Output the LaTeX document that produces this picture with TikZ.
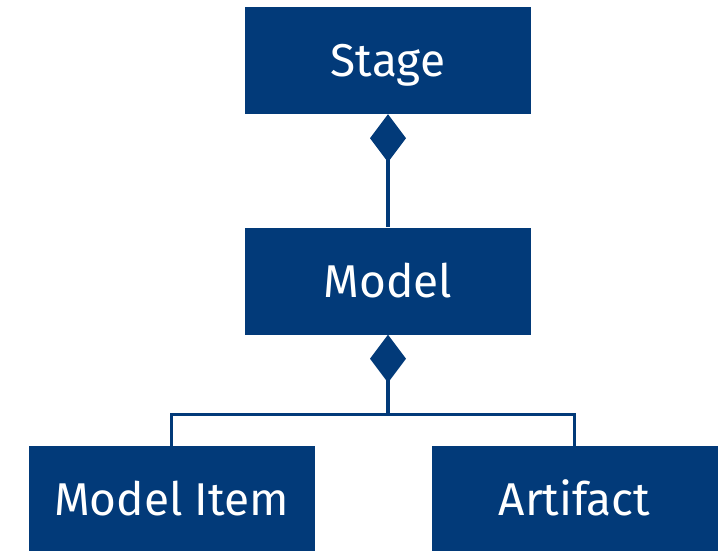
\documentclass[tikz,border=0pt]{standalone}
\usepackage{fontspec}
\setsansfont{Fira Sans}
\usetikzlibrary{arrows.meta}
\definecolor{navy}{RGB}{2,58,121}
\begin{document}
\begin{tikzpicture}[x=1pt,y=-1pt,
  block/.style={fill=navy, text=white, minimum width=286pt, minimum height=107pt,
    inner sep=0pt, text height=32pt, text depth=0pt,
    font=\sffamily\fontsize{46}{46}\selectfont},
  stem/.style={draw=navy, line width=4pt},
  branch/.style={draw=navy, line width=3pt},
  comp/.style={{Diamond[length=48pt,width=36pt,line width=0pt]}-}]
\useasboundingbox (0,0) rectangle (725,550);
% class boxes
\node[block] (stage) at (388,60.5) {Stage};
\node[block] (model) at (388,281) {Model};
\node[block] (item) at (171.5,499.5) {Model Item};
\node[block] (artifact) at (574.5,499.5) {Artifact};
% composition: Stage owns Model
\draw[stem, comp] (stage.south) -- (model.north);
% composition: Model owns Model Item and Artifact
\draw[stem, comp] (model.south) -- ++(0,80) coordinate (fork);
\draw[branch] (fork) -| (item.north);
\draw[branch] (fork) -| (artifact.north);
\end{tikzpicture}
\end{document}
